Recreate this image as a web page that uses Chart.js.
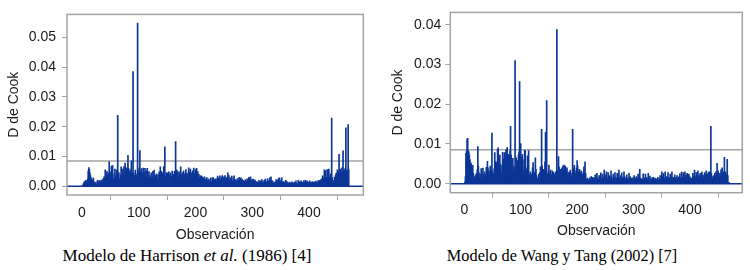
<!DOCTYPE html>
<html lang="es">
<head>
<meta charset="utf-8">
<title>D de Cook</title>
<script src="https://cdn.jsdelivr.net/npm/chart.js@4.4.1/dist/chart.umd.min.js"></script>
<style>
  body { margin: 0; background: #fff; width: 750px; height: 270px; overflow: hidden; position: relative; }
  canvas { position: absolute; top: 0; }
  #cvA { left: 0; }
  #cvB { left: 375px; }
  .pie { position: absolute; font-family: "Liberation Serif", "Times New Roman", serif; font-size: 16px;
         color: #000; white-space: nowrap; transform: translateX(-50%); line-height: 18px; }
</style>
</head>
<body>
<canvas id="cvA" width="375" height="245"></canvas>
<canvas id="cvB" width="375" height="245"></canvas>
<div class="pie" style="left:187px; top:247px; font-size:17px">Modelo de Harrison <i>et al.</i> (1986) [4]</div>
<div class="pie" style="left:562px; top:247px; font-size:16.3px">Modelo de Wang y Tang (2002) [7]</div>
<script>
// D de Cook por observación (valores x 1000), obs 1..470
const cookHarrison = [
  0.2,0.5,1.0,1.5,1.2,1.8,2.0,1.4,1.0,2.5,
  5.2,6.3,5.8,4.5,3.6,2.8,2.0,1.4,2.2,2.8,
  1.6,1.0,0.8,1.3,0.6,0.9,1.8,2.0,1.2,0.7,
  1.9,1.5,0.8,2.1,1.4,1.0,2.5,1.8,3.2,2.6,
  5.5,4.2,3.0,5.0,3.8,2.2,4.4,8.3,3.5,2.0,
  4.8,6.8,3.9,6.9,2.6,1.5,4.2,5.8,2.3,3.6,
  5.5,3.0,23.8,2.8,4.6,1.8,2.4,3.9,6.5,2.2,
  3.3,5.8,4.0,6.6,2.8,7.8,5.9,4.5,6.2,5.6,
  10.4,6.0,4.8,3.2,5.5,2.6,8.5,4.3,3.7,38.5,
  4.5,2.2,3.6,5.4,2.5,3.8,4.1,54.8,3.2,5.3,
  6.1,12.0,4.8,3.1,5.9,2.6,4.4,6.1,3.0,4.7,
  6.0,2.8,5.2,3.4,6.0,4.1,2.3,4.9,3.6,1.8,
  2.9,4.5,1.4,3.2,5.0,2.7,5.4,1.9,3.6,2.4,
  4.2,2.8,1.6,3.9,2.2,4.8,3.4,6.5,3.0,5.0,
  2.4,4.4,3.3,6.6,4.0,13.2,3.5,2.2,4.6,3.0,
  4.4,2.6,4.8,1.9,3.8,4.5,2.0,3.3,5.1,2.9,
  4.0,2.1,5.0,3.2,15.0,3.8,5.5,2.6,4.9,3.4,
  4.5,2.0,5.0,6.5,3.8,2.4,4.6,3.6,5.2,2.8,
  4.2,3.3,5.6,3.0,4.4,2.5,3.9,6.2,3.1,4.8,
  5.8,3.4,4.5,2.6,5.2,3.7,6.1,4.2,3.0,5.6,
  4.4,6.0,3.2,4.9,2.6,4.0,3.1,2.2,3.6,2.8,
  3.4,2.0,3.0,1.8,2.6,3.2,1.4,2.4,1.6,2.9,
  2.0,1.2,2.5,1.7,1.0,2.2,2.8,1.5,1.1,2.6,
  3.0,1.6,2.3,1.0,2.5,1.8,1.2,2.6,3.4,1.9,
  2.8,1.5,3.5,2.2,1.4,2.9,3.6,2.0,1.6,3.2,
  2.4,3.6,1.8,2.8,2.2,3.0,4.5,2.4,3.6,2.0,
  1.5,2.8,2.2,3.4,1.8,1.2,2.6,3.5,2.0,1.4,
  2.2,1.0,1.8,2.6,1.4,2.0,3.0,1.6,2.4,2.8,
  1.8,2.4,1.2,2.0,1.5,0.9,1.7,2.2,1.1,1.6,
  2.5,1.4,2.0,3.0,1.6,2.6,3.2,1.8,1.0,2.3,
  1.5,2.4,1.2,1.8,2.1,1.0,0.8,1.6,1.2,0.9,
  1.4,2.0,0.7,1.2,1.8,1.0,2.2,1.5,0.9,1.3,
  2.0,1.4,2.4,1.1,1.6,0.8,2.6,1.8,1.2,2.0,
  2.8,1.5,3.2,2.0,1.2,1.8,1.0,0.7,1.3,0.9,
  1.6,2.2,1.0,1.4,2.0,2.6,1.2,2.8,1.8,1.1,
  2.0,2.8,1.4,0.9,1.6,1.2,0.8,1.5,2.0,1.0,
  1.6,0.8,1.2,0.6,1.0,1.4,0.7,1.1,0.9,1.5,
  0.8,1.2,0.6,1.0,1.4,0.7,1.8,1.0,0.5,0.9,
  2.0,1.2,0.8,1.6,1.0,1.8,1.3,0.7,1.4,1.1,
  1.9,1.2,0.8,2.0,1.5,1.0,1.7,1.2,0.6,1.3,
  1.8,1.0,1.4,0.7,1.2,1.6,0.9,1.3,0.8,1.5,
  1.1,1.7,1.0,1.4,0.8,1.9,1.2,1.5,2.0,1.3,
  2.2,1.6,2.6,3.5,1.8,2.8,5.5,2.4,5.3,2.0,
  3.0,5.6,2.6,3.4,5.8,2.2,3.0,4.2,2.8,22.9,
  2.9,1.2,0.8,2.0,3.1,2.5,3.8,4.4,2.6,5.5,
  3.2,5.0,10.7,4.2,5.8,3.6,4.5,6.2,5.0,11.9,
  4.8,5.5,3.9,6.0,19.6,5.2,4.8,5.5,20.7,5.6
];

const cookWang = [
  0.4,1.8,7.6,8.2,11.2,11.4,8.3,8.0,7.2,6.0,
  4.8,5.2,4.5,3.2,4.6,2.6,1.8,1.0,1.5,2.2,
  1.1,2.6,3.5,9.3,4.4,2.8,1.4,2.4,1.2,3.8,
  1.8,0.9,3.9,1.5,2.4,3.0,1.2,2.2,4.1,3.4,
  5.6,4.0,2.0,3.2,1.4,4.4,2.8,3.5,12.7,3.0,
  1.6,2.5,3.8,7.8,5.5,2.9,5.4,4.2,8.6,9.0,
  4.2,2.4,7.2,5.0,3.0,1.5,4.6,7.9,6.2,3.6,
  7.7,7.8,6.0,8.5,7.2,9.1,6.5,7.4,4.0,7.0,
  8.2,14.4,7.2,5.8,3.2,6.4,2.4,4.4,3.0,31.0,
  4.2,6.5,2.0,5.8,3.5,7.2,8.0,25.7,4.6,10.1,
  6.8,5.0,7.4,3.2,2.0,6.0,8.4,8.3,4.0,2.6,
  3.5,7.0,5.2,8.3,2.2,1.4,3.0,1.2,2.5,1.8,
  4.0,5.3,3.0,1.8,2.6,6.5,3.6,2.0,1.2,0.8,
  1.6,2.4,1.0,2.8,4.2,3.0,13.7,4.5,2.2,3.6,
  1.8,3.2,5.5,12.9,4.8,20.9,2.4,1.4,3.0,4.7,
  2.6,1.8,3.4,1.0,2.2,3.2,1.5,2.9,0.9,2.4,
  1.4,3.0,2.0,38.8,3.2,2.4,6.8,4.2,2.8,3.6,
  1.8,3.6,4.0,2.5,4.5,3.2,4.7,3.8,4.4,2.6,
  3.4,4.0,1.6,2.8,1.2,3.0,2.2,3.4,1.8,1.0,
  2.6,13.7,3.8,2.4,4.6,3.2,1.8,2.6,4.0,5.8,
  4.5,3.0,2.0,3.6,1.4,2.8,3.2,1.6,2.4,1.2,
  3.0,4.2,2.0,5.5,2.6,1.0,0.7,1.4,0.9,0.6,
  1.2,0.8,1.5,1.0,1.8,0.9,1.3,1.6,0.7,1.4,
  1.0,2.2,1.4,0.8,2.6,1.5,1.1,0.9,2.0,1.2,
  1.8,2.7,1.3,0.9,2.4,1.6,1.0,3.4,1.8,1.2,
  2.2,3.0,1.4,1.0,2.8,1.6,2.0,1.1,1.5,3.2,
  1.8,1.2,0.8,2.4,1.5,1.0,2.8,1.6,0.9,1.4,
  2.6,1.2,1.8,3.4,1.4,0.9,2.0,1.2,2.7,1.6,
  0.8,1.4,3.0,1.8,1.2,0.7,1.6,2.2,1.0,1.4,
  0.9,2.6,1.2,1.8,0.8,1.4,1.1,0.7,1.5,1.2,
  2.0,1.0,0.6,1.4,1.8,0.9,1.2,2.4,1.0,1.6,
  3.6,1.4,0.9,1.2,0.7,1.0,2.5,1.6,0.9,1.3,
  2.4,1.1,1.6,0.8,1.2,2.6,1.4,1.0,1.9,0.8,
  1.2,0.7,1.5,0.9,1.6,1.1,0.8,1.4,1.0,0.6,
  1.2,0.9,1.6,1.0,0.7,1.3,2.0,1.1,0.8,3.0,
  1.8,1.2,2.6,1.4,0.9,3.0,1.5,1.0,1.8,1.2,
  2.8,1.4,0.9,1.6,2.4,1.0,1.8,3.0,1.4,1.1,
  1.6,0.8,2.2,1.2,1.5,0.9,2.0,1.3,1.0,1.7,
  1.2,2.5,1.4,0.8,2.9,1.6,1.0,2.8,1.8,1.2,
  3.0,1.6,2.2,1.4,2.6,1.0,1.9,2.4,1.3,1.7,
  1.0,1.4,0.8,1.2,2.6,1.5,1.9,3.4,1.8,1.2,
  2.8,1.6,2.4,3.2,1.5,2.0,1.2,2.6,1.8,1.4,
  3.0,1.6,2.2,1.0,1.8,2.8,1.4,2.4,3.2,1.6,
  2.4,1.8,2.9,1.5,3.0,2.2,14.4,2.6,1.8,1.2,
  0.9,2.0,1.4,2.6,1.8,3.0,2.2,5.1,1.8,3.2,
  2.0,1.5,2.6,1.8,3.5,2.2,4.0,1.8,3.0,2.4,
  6.6,2.4,3.0,1.6,2.2,6.1,2.0,0.3,0.2,0.1
];

const xTicks = [0, 100, 200, 300, 400];
const yTicksA = [0, 0.01, 0.02, 0.03, 0.04, 0.05];
const yTicksB = [0, 0.01, 0.02, 0.03, 0.04];
const corte = 0.0085; // línea de referencia (4/n)

const azul = '#0b3596';
const gris = '#a3a3a3';
const texto = '#1a1a1a';
const fuente = { family: '"Liberation Sans", Arial, sans-serif', size: 14 };

// marco gris alrededor del área del gráfico
const marco = {
  id: 'marco',
  afterDraw(chart) {
    const { ctx, chartArea: a } = chart;
    ctx.save();
    ctx.strokeStyle = gris;
    ctx.lineWidth = 1.5;
    ctx.strokeRect(a.left, a.top, a.right - a.left, a.bottom - a.top);
    ctx.restore();
  }
};

function crearGrafico(id, valores, yTicks, aj) {
  const puntos = valores.map((v, i) => ({ x: i + 1, y: v / 1000 }));
  return new Chart(document.getElementById(id), {
    type: 'bar',
    data: {
      datasets: [
        { data: puntos, backgroundColor: azul, barThickness: 1, order: 0 },
        { type: 'line', data: [{ x: aj.xMin, y: corte }, { x: aj.xMax, y: corte }],
          borderColor: gris, borderWidth: 1.5, pointRadius: 0, order: 2 },
        { type: 'line', data: [{ x: aj.xMin, y: 0 }, { x: aj.xMax, y: 0 }],
          borderColor: azul, borderWidth: 1.5, pointRadius: 0, order: 1 }
      ]
    },
    options: {
      responsive: false,
      animation: false,
      devicePixelRatio: 1,
      layout: { padding: aj.padding },
      plugins: { legend: { display: false }, tooltip: { enabled: false } },
      scales: {
        x: {
          type: 'linear', offset: false, min: aj.xMin, max: aj.xMax,
          afterBuildTicks: s => { s.ticks = xTicks.map(v => ({ value: v })); },
          afterFit: s => { s.height = aj.altoX; },
          grid: { drawOnChartArea: false, color: gris, tickLength: 5 },
          border: { display: false },
          ticks: { font: fuente, color: texto, padding: aj.padTickX, maxRotation: 0 },
          title: { display: true, text: 'Observación', font: fuente, color: texto,
                   padding: { top: 0, bottom: aj.padTituloX } }
        },
        y: {
          min: aj.yMin, max: aj.yMax,
          afterBuildTicks: s => { s.ticks = yTicks.map(v => ({ value: v })); },
          afterFit: s => { s.width = aj.anchoY; },
          grid: { drawOnChartArea: false, color: gris, tickLength: 5 },
          border: { display: false },
          ticks: { font: fuente, color: texto, padding: aj.padTickY, callback: v => v.toFixed(2) },
          title: { display: true, text: 'D de Cook', font: fuente, color: texto,
                   padding: { top: aj.padTituloY, bottom: 0 } }
        }
      }
    },
    plugins: [marco]
  });
}

crearGrafico('cvA', cookHarrison, yTicksA, {
  xMin: -26.4, xMax: 495.7, yMin: -0.00294, yMax: 0.0577,
  padding: { top: 9.3, right: 11.7, left: 0, bottom: 0 },
  anchoY: 67, altoX: 50, padTickX: 4.6, padTickY: 6, padTituloX: 1.6, padTituloY: 5.6
});

crearGrafico('cvB', cookWang, yTicksB, {
  xMin: -24.8, xMax: 492.7, yMin: -0.00228, yMax: 0.0431,
  padding: { top: 6, right: 7.7, left: 0, bottom: 0 },
  anchoY: 75.3, altoX: 52.3, padTickX: 3.9, padTickY: 4, padTituloX: 5.9, padTituloY: 14.9
});
</script>
</body>
</html>
